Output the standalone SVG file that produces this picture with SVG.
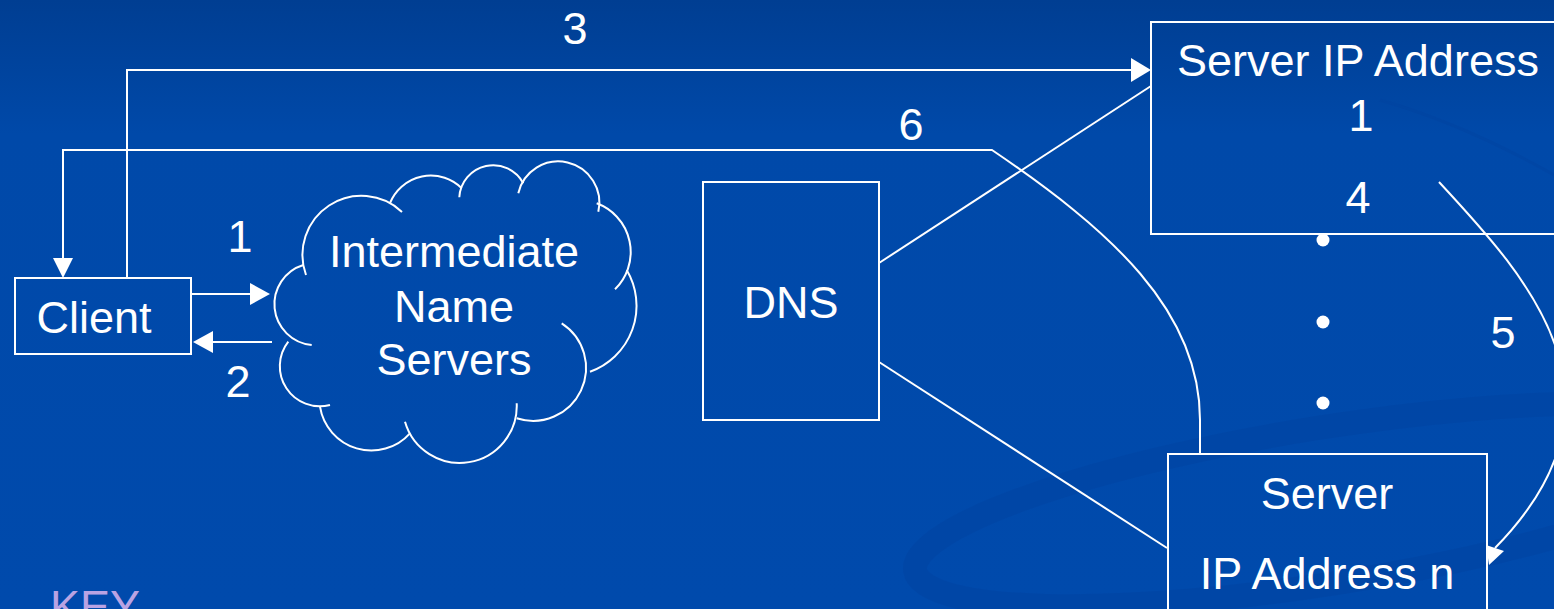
<svg xmlns="http://www.w3.org/2000/svg" width="1554" height="609" viewBox="0 0 1554 609">
<defs>
<linearGradient id="bg" x1="0" y1="0" x2="0" y2="1">
<stop offset="0" stop-color="#003E92"/>
<stop offset="0.22" stop-color="#0049A9"/>
<stop offset="1" stop-color="#004AAC"/>
</linearGradient>
<style>
.ln{fill:none;stroke:#FFFFFF;stroke-width:2}
.bx{fill:none;stroke:#FFFFFF;stroke-width:2}
.hd{fill:#FFFFFF;stroke:none}
.t{font-family:"Liberation Sans",Arial,sans-serif;font-size:45px;fill:#FFFFFF;text-anchor:middle}
.key{font-family:"Liberation Sans",Arial,sans-serif;font-size:45px;fill:#B9A3E3}
.sw{fill:none;stroke:#0042A0;stroke-opacity:0.45}
</style>
</defs>
<rect x="0" y="0" width="1554" height="609" fill="url(#bg)"/>
<g id="swirl">
<ellipse class="sw" cx="1330" cy="505" rx="420" ry="78" transform="rotate(-9 1330 505)" stroke-width="24"/>
<path class="sw" d="M1380,100 C1450,120 1510,150 1554,175" stroke-width="3"/>
</g>
<g id="connectors">
<path class="ln" d="M127,278 V70 H1132"/>
<polygon class="hd" points="1131,58 1151,70 1131,82"/>
<path class="ln" d="M1200,455 V420 C1200,310 1110,230 992,150 H63 V259"/>
<polygon class="hd" points="53,258 63,278 73,258"/>
<path class="ln" d="M191,294 H251"/>
<polygon class="hd" points="250,283 270,294 250,305"/>
<path class="ln" d="M272,342 H212"/>
<polygon class="hd" points="213,331 193,342 213,353"/>
<path class="ln" d="M879,263 L1151,86"/>
<path class="ln" d="M879,362 L1167,548"/>
<path class="ln" d="M1439,182 C1530,280 1640,400 1495,548"/>
<polygon class="hd" points="1486,545 1504,551 1489,565"/>
</g>
<g id="client">
<rect class="bx" x="15" y="278" width="176" height="76"/>
<text class="t" x="94" y="333">Client</text>
</g>
<g id="cloud">
<path class="ln" d="M311.7,345 A41 41 0 0 1 303.3,265"/>
<path class="ln" d="M306,275 A59 59 0 0 1 402,212"/>
<path class="ln" d="M390,203 A44 44 0 0 1 461.7,188.3"/>
<path class="ln" d="M459.3,197.3 A34 34 0 0 1 523.3,183.3"/>
<path class="ln" d="M518.3,193.3 A41 41 0 0 1 598.3,211.7"/>
<path class="ln" d="M596.7,203.3 A52 52 0 0 1 615,289.3"/>
<path class="ln" d="M626.7,270 A70 70 0 0 1 590,371.7"/>
<path class="ln" d="M561.7,323.3 A53 53 0 0 1 516.7,418.3"/>
<path class="ln" d="M516.7,403.3 A57 57 0 0 1 405,421.7"/>
<path class="ln" d="M410,433.3 A52 52 0 0 1 320,406.7"/>
<path class="ln" d="M330,405 A40 40 0 0 1 288.3,341.7"/>
<text class="t" x="454" y="267">Intermediate</text>
<text class="t" x="454" y="322">Name</text>
<text class="t" x="454" y="375">Servers</text>
</g>
<g id="dns">
<rect class="bx" x="703" y="182" width="176" height="238"/>
<text class="t" x="791" y="318">DNS</text>
</g>
<g id="server1">
<rect class="bx" x="1151" y="22" width="415" height="212"/>
<text class="t" x="1358" y="76">Server IP Address</text>
<text class="t" x="1361" y="131">1</text>
<text class="t" x="1358" y="213">4</text>
</g>
<g id="dots">
<circle cx="1323" cy="240" r="6.5" fill="#FFFFFF"/>
<circle cx="1323" cy="322" r="6.5" fill="#FFFFFF"/>
<circle cx="1323" cy="403" r="6.5" fill="#FFFFFF"/>
</g>
<g id="servern">
<rect class="bx" x="1168" y="454" width="319" height="170"/>
<text class="t" x="1327" y="509">Server</text>
<text class="t" x="1327" y="589">IP Address n</text>
</g>
<g id="labels">
<text class="t" x="575" y="44">3</text>
<text class="t" x="911" y="140">6</text>
<text class="t" x="240" y="252">1</text>
<text class="t" x="238" y="397">2</text>
<text class="t" x="1503" y="348">5</text>
</g>
<text class="key" x="50" y="622">KEY</text>
</svg>
